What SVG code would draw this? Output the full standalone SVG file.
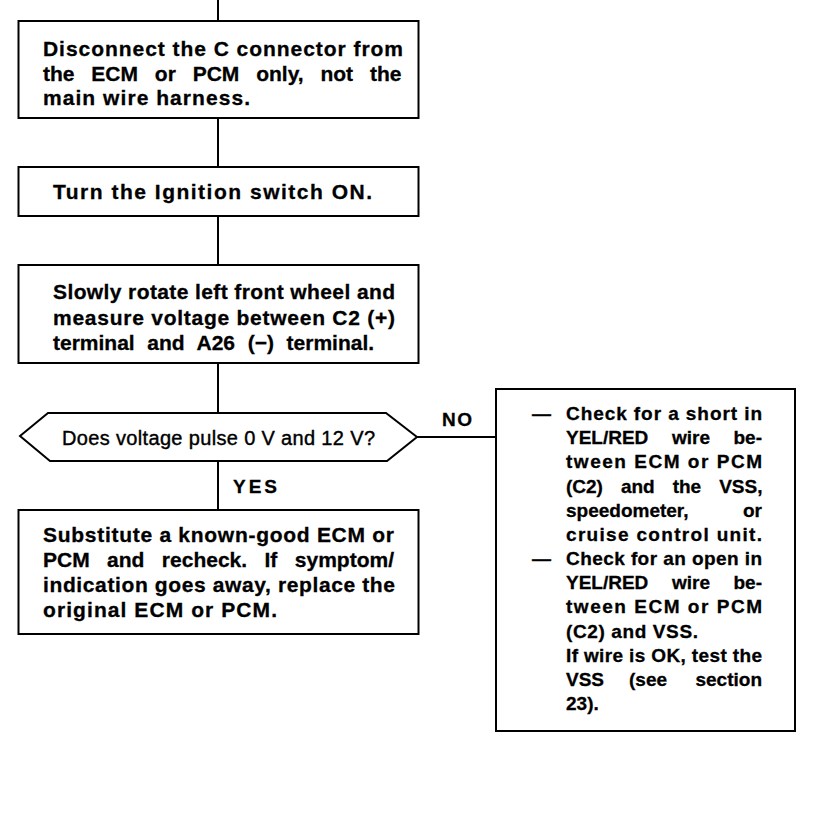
<svg xmlns="http://www.w3.org/2000/svg" width="832" height="820" viewBox="0 0 832 820">
<style>
.box{fill:#fff;stroke:#000;stroke-width:2}
.ln{fill:none;stroke:#000;stroke-width:2}
.t{font-family:"Liberation Sans",Arial,Helvetica,sans-serif;font-weight:bold;font-size:21px;fill:#000;stroke:#000;stroke-width:0.3}
.s{font-family:"Liberation Sans",Arial,Helvetica,sans-serif;font-weight:bold;font-size:19px;fill:#000;stroke:#000;stroke-width:0.3}
.q{font-family:"Liberation Sans",Arial,Helvetica,sans-serif;font-weight:normal;font-size:20px;fill:#000;stroke:#000;stroke-width:0.4}
.e{text-anchor:end}
.m{text-anchor:middle}
</style>
<rect width="832" height="820" fill="#fff"/>
<g id="connectors">
<line class="ln" x1="218" y1="0" x2="218" y2="21"/>
<line class="ln" x1="218" y1="118" x2="218" y2="167"/>
<line class="ln" x1="218" y1="216" x2="218" y2="265"/>
<line class="ln" x1="218" y1="363" x2="218" y2="413"/>
<line class="ln" x1="218" y1="461" x2="218" y2="510"/>
<line class="ln" x1="417" y1="437" x2="496" y2="437"/>
<text class="s" x="442" y="426" textLength="30">NO</text>
<text class="s" x="233" y="493" textLength="44">YES</text>
</g>
<g id="n1">
<rect class="box" x="18.5" y="21" width="400" height="97"/>
<text class="t" x="43" y="56" textLength="360">Disconnect the C connector from</text>
<text class="t" x="43" y="80.5" word-spacing="11">the ECM or PCM only, not the</text>
<text class="t" x="43" y="105" textLength="207">main wire harness.</text>
</g>
<g id="n2">
<rect class="box" x="18.5" y="167" width="400" height="49"/>
<text class="t" x="53" y="199" textLength="319">Turn the Ignition switch ON.</text>
</g>
<g id="n3">
<rect class="box" x="18.5" y="265" width="400" height="98"/>
<text class="t" x="53" y="299" textLength="342">Slowly rotate left front wheel and</text>
<text class="t" x="53" y="324.5" textLength="342">measure voltage between C2 (+)</text>
<text class="t" x="53" y="350" word-spacing="6.8">terminal and A26 (−) terminal.</text>
</g>
<g id="n4">
<polygon class="box" points="20,436 48,413 386,413 417,437 387,461 50,461"/>
<text class="q" x="62" y="445" textLength="313">Does voltage pulse 0 V and 12 V?</text>
</g>
<g id="n5">
<rect class="box" x="18.5" y="510" width="400" height="124"/>
<text class="t" x="43" y="541.5" textLength="351">Substitute a known-good ECM or</text>
<text class="t" x="43" y="566.5" word-spacing="11.6">PCM and recheck. If symptom/</text>
<text class="t" x="43" y="591.5" textLength="352">indication goes away, replace the</text>
<text class="t" x="43" y="617" textLength="234">original ECM or PCM.</text>
</g>
<g id="n6">
<rect class="box" x="496" y="389" width="299" height="342"/>
<text class="s" x="532" y="420">—</text>
<text class="s" x="566" y="420" textLength="196">Check for a short in</text>
<text class="s" x="566" y="444.2">YEL/RED</text><text class="s m" x="691" y="444.2">wire</text><text class="s e" x="762" y="444.2">be-</text>
<text class="s" x="566" y="468.3" textLength="196">tween ECM or PCM</text>
<text class="s" x="566" y="492.5" word-spacing="12.7">(C2) and the VSS,</text>
<text class="s" x="566" y="516.7">speedometer,</text><text class="s e" x="762" y="516.7">or</text>
<text class="s" x="566" y="540.8" textLength="196">cruise control unit.</text>
<text class="s" x="532" y="565">—</text>
<text class="s" x="566" y="565" textLength="196">Check for an open in</text>
<text class="s" x="566" y="589.2">YEL/RED</text><text class="s m" x="691" y="589.2">wire</text><text class="s e" x="762" y="589.2">be-</text>
<text class="s" x="566" y="613.3" textLength="196">tween ECM or PCM</text>
<text class="s" x="566" y="637.5" textLength="132">(C2) and VSS.</text>
<text class="s" x="566" y="661.7" textLength="196">If wire is OK, test the</text>
<text class="s" x="566" y="685.8">VSS</text><text class="s m" x="648" y="685.8">(see</text><text class="s e" x="762" y="685.8">section</text>
<text class="s" x="566" y="710">23).</text>
</g>
</svg>
